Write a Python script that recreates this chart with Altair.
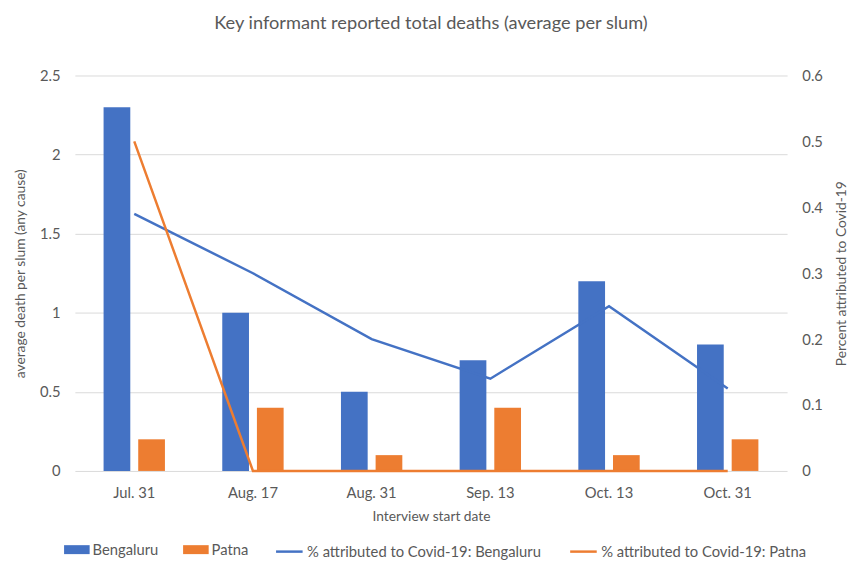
import altair as alt
import pandas as pd

dates = ["Jul. 31", "Aug. 17", "Aug. 31", "Sep. 13", "Oct. 13", "Oct. 31"]
beng_deaths = [2.3, 1.0, 0.5, 0.7, 1.2, 0.8]
patna_deaths = [0.2, 0.4, 0.1, 0.4, 0.1, 0.2]
beng_pct = [0.39, 0.30, 0.20, 0.14, 0.25, 0.125]
patna_pct = [0.5, 0.0, 0.0, 0.0, 0.0, 0.0]
cities = ["Bengaluru", "Patna"]
line_names = ["% attributed to Covid-19: Bengaluru", "% attributed to Covid-19: Patna"]
colors = ["#4472C4", "#ED7D31"]

bars_df = pd.DataFrame(
    [{"date": d, "city": cities[0], "deaths": v} for d, v in zip(dates, beng_deaths)]
    + [{"date": d, "city": cities[1], "deaths": v} for d, v in zip(dates, patna_deaths)]
)
lines_df = pd.DataFrame(
    [{"date": d, "series": line_names[0], "pct": v} for d, v in zip(dates, beng_pct)]
    + [{"date": d, "series": line_names[1], "pct": v} for d, v in zip(dates, patna_pct)]
)

FONT = "Lato"
TXT = "#595959"

xenc = alt.X(
    "date:N",
    sort=dates,
    scale=alt.Scale(paddingInner=0.483, paddingOuter=0.2417),
    axis=alt.Axis(
        title="Interview start date",
        labelAngle=0,
        labelPadding=15,
        titlePadding=9,
        ticks=False,
        domain=False,
        grid=False,
    ),
)

bars = alt.Chart(bars_df).mark_bar().encode(
    x=xenc,
    xOffset=alt.XOffset("city:N", sort=cities,
                        scale=alt.Scale(paddingInner=0.229, paddingOuter=0)),
    y=alt.Y(
        "deaths:Q",
        scale=alt.Scale(domain=[0, 2.5], nice=False),
        axis=alt.Axis(
            title="average death per slum (any cause)",
            values=[0, 0.5, 1, 1.5, 2, 2.5],
            format="~g",
            ticks=False,
            domain=False,
            grid=True,
            gridColor="#D9D9D9",
            gridWidth=1,
            labelPadding=15,
            titlePadding=12,
        ),
    ),
    fill=alt.Fill(
        "city:N",
        sort=cities,
        scale=alt.Scale(domain=cities, range=colors),
        legend=alt.Legend(
            title=None,
            orient="none",
            legendX=-11,
            legendY=469,
            direction="horizontal",
            padding=0,
            symbolType="M-1,-0.35H1V0.35H-1Z",
            symbolSize=676,
            symbolStrokeWidth=0,
            labelOffset=3,
            columnPadding=25,
        ),
    ),
)

lines = alt.Chart(lines_df).mark_line(strokeWidth=2.5).encode(
    x=alt.X("date:N", sort=dates),
    y=alt.Y(
        "pct:Q",
        scale=alt.Scale(domain=[0, 0.6], nice=False),
        axis=alt.Axis(
            title="Percent attributed to Covid-19",
            titleAngle=270,
            titleBaseline="top",
            orient="right",
            values=[0, 0.1, 0.2, 0.3, 0.4, 0.5, 0.6],
            format="~g",
            ticks=False,
            domain=False,
            grid=False,
            labelPadding=15,
            titlePadding=12,
        ),
    ),
    stroke=alt.Stroke(
        "series:N",
        sort=line_names,
        scale=alt.Scale(domain=line_names, range=colors),
        legend=alt.Legend(
            title=None,
            orient="none",
            legendX=203,
            legendY=469,
            direction="horizontal",
            padding=0,
            symbolType="stroke",
            symbolStrokeWidth=2.5,
            symbolSize=729,
            labelOffset=3,
            labelLimit=400,
            columnPadding=24,
        ),
    ),
)

chart = (
    alt.layer(bars, lines)
    .resolve_scale(y="independent")
    .properties(
        width=724,
        height=402,
        padding={"left": 6, "top": 1, "right": 4, "bottom": 2},
        title=alt.Title(
            "Key informant reported total deaths (average per slum)",
            fontSize=18.5,
            font=FONT,
            fontWeight="normal",
            color=TXT,
            offset=37,
        ),
    )
    .configure_view(stroke=None)
    .configure_axis(
        labelFont=FONT,
        titleFont=FONT,
        labelFontSize=15,
        titleFontSize=14,
        labelColor=TXT,
        titleColor=TXT,
        titleFontWeight="normal",
    )
    .configure_legend(
        labelFont=FONT,
        labelFontSize=15,
        labelColor=TXT,
        labelLimit=400,
    )
)

chart.save("out.html", embed_options={"renderer": "svg", "actions": False})
